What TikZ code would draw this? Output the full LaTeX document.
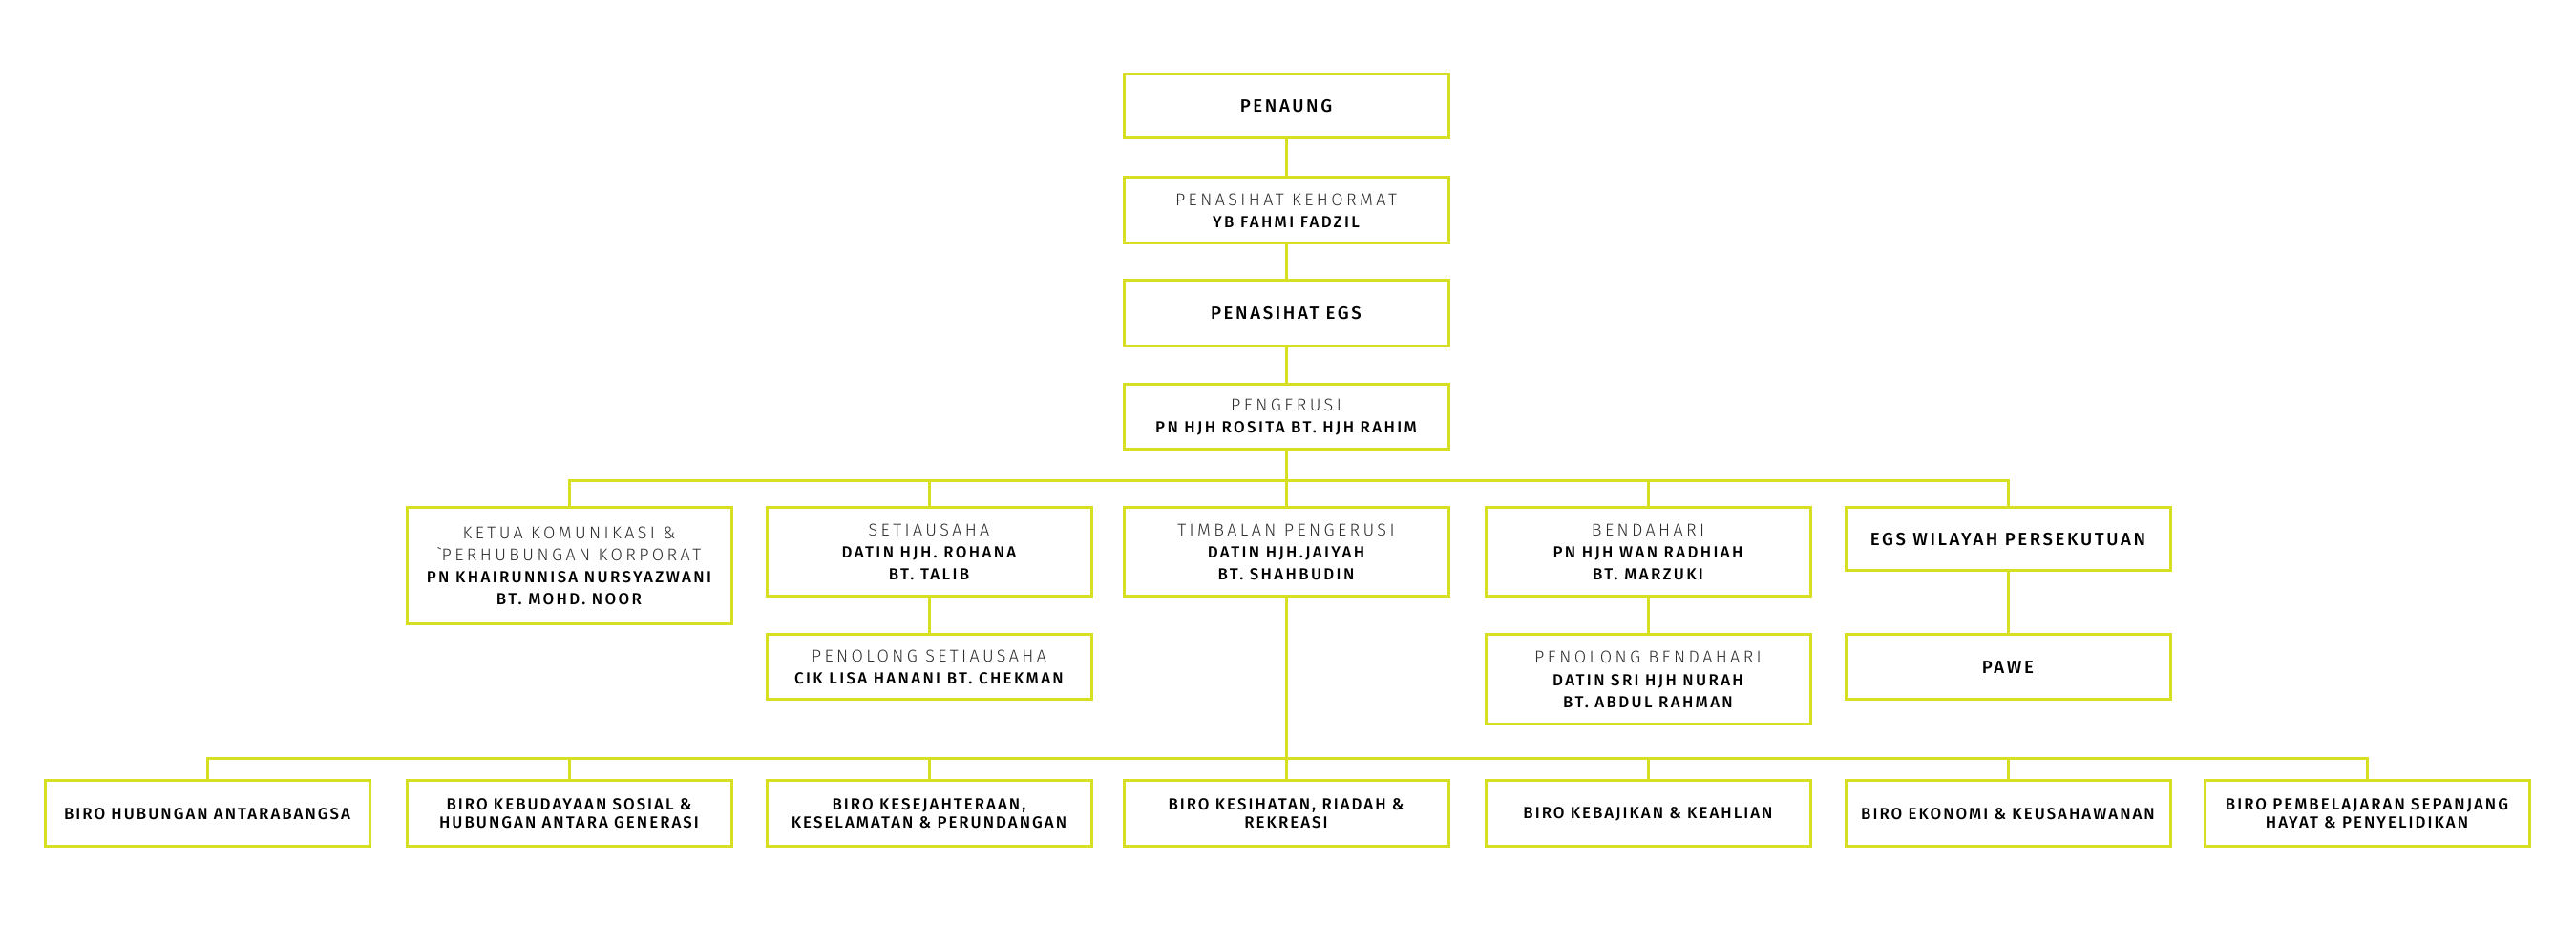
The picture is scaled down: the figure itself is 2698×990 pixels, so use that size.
\documentclass[tikz,border=0pt]{standalone}
\usepackage{fontspec}
\setmainfont{Fira Sans}
\newfontfamily\ttlfont{Fira Sans Light}[LetterSpace=19]
\newfontfamily\namfont{Fira Sans Medium}[LetterSpace=14]
\newfontfamily\birofont{Fira Sans Medium}[LetterSpace=12]
\usetikzlibrary{positioning}
\definecolor{egsline}{RGB}{215,223,35}
\definecolor{egstitle}{RGB}{45,45,45}
\newcommand\jaw[1]{{\ttlfont\fontsize{5.1}{6.6}\selectfont\color{egstitle}#1}}
\newcommand\nama[1]{{\namfont\fontsize{4.8}{6.6}\selectfont #1}}
\tikzset{
  orgbox/.style ={draw=egsline, line width=0.3mm, fill=white, anchor=north, minimum width=34mm,
                  inner sep=0pt, outer sep=0pt, align=center, font=\fontsize{5}{6.6}\selectfont},
  headbox/.style={orgbox, font=\namfont\fontsize{5.3}{6.6}\selectfont},
  birobox/.style={orgbox, minimum height=6.9mm, font=\birofont\fontsize{4.8}{5.4}\selectfont},
  link/.style   ={draw=egsline, line width=0.3mm}
}

\begin{document}
\begin{tikzpicture}[x=0.1mm,y=-0.1mm]
\useasboundingbox (0,0) rectangle (2698,990);
% top column
\node[headbox, minimum height=6.7mm] (penaung) at (1347,78) {PENAUNG};
\node[orgbox, minimum height=6.9mm] (keh) at (1347,186)
  {\jaw{PENASIHAT KEHORMAT}\\\nama{YB FAHMI FADZIL}};
\node[headbox, minimum height=6.9mm] (egs) at (1347,294) {PENASIHAT EGS};
\node[orgbox, minimum height=6.8mm] (peng) at (1347,403)
  {\jaw{PENGERUSI}\\\nama{PN HJH ROSITA BT. HJH RAHIM}};

% second row
\node[orgbox, minimum height=12.2mm] (ketua) at (596,532)
  {\jaw{KETUA KOMUNIKASI \&}\\\jaw{\textasciigrave PERHUBUNGAN KORPORAT}\\
   \nama{PN KHAIRUNNISA NURSYAZWANI}\\\nama{BT. MOHD. NOOR}};
\node[orgbox, minimum height=9.3mm] (setia) at (973,532)
  {\jaw{SETIAUSAHA}\\\nama{DATIN HJH. ROHANA}\\\nama{BT. TALIB}};
\node[orgbox, minimum height=9.3mm] (timb) at (1347,532)
  {\jaw{TIMBALAN PENGERUSI}\\\nama{DATIN HJH.JAIYAH}\\\nama{BT. SHAHBUDIN}};
\node[orgbox, minimum height=9.3mm] (bend) at (1726,532)
  {\jaw{BENDAHARI}\\\nama{PN HJH WAN RADHIAH}\\\nama{BT. MARZUKI}};
\node[headbox, minimum height=6.6mm] (egswp) at (2103,532) {EGS WILAYAH PERSEKUTUAN};

% assistants
\node[orgbox, minimum height=6.8mm, below=4mm of setia] (psetia)
  {\jaw{PENOLONG SETIAUSAHA}\\\nama{CIK LISA HANANI BT. CHEKMAN}};
\node[orgbox, minimum height=9.4mm, below=4mm of bend] (pbend)
  {\jaw{PENOLONG BENDAHARI}\\\nama{DATIN SRI HJH NURAH}\\\nama{BT. ABDUL RAHMAN}};
\node[headbox, minimum height=6.8mm, below=6.7mm of egswp] (pawe) {PAWE};

% biro row
\foreach \n/\x/\t in {b1/217/{BIRO HUBUNGAN ANTARABANGSA},
    b2/596/{BIRO KEBUDAYAAN SOSIAL \&\\HUBUNGAN ANTARA GENERASI},
    b3/973/{BIRO KESEJAHTERAAN,\\KESELAMATAN \& PERUNDANGAN},
    b4/1347/{BIRO KESIHATAN, RIADAH \&\\REKREASI},
    b5/1726/{BIRO KEBAJIKAN \& KEAHLIAN},
    b6/2103/{BIRO EKONOMI \& KEUSAHAWANAN},
    b7/2479/{BIRO PEMBELAJARAN SEPANJANG\\HAYAT \& PENYELIDIKAN}}
  \node[birobox] (\n) at (\x,818) {\t};

% connectors
\coordinate (busA) at (0,504);
\coordinate (busB) at (0,795);
\draw[link] (penaung) -- (keh);
\draw[link] (keh) -- (egs);
\draw[link] (egs) -- (peng);
\draw[link] (peng.south) -- (peng.south |- busA);
\draw[link] (ketua.north) |- (peng.south |- busA) -| (egswp.north);
\foreach \n in {setia,timb,bend}
  \draw[link] (\n.north) -- (\n.north |- busA);
\draw[link] (setia) -- (psetia);
\draw[link] (bend) -- (pbend);
\draw[link] (egswp) -- (pawe);
\draw[link] (timb.south) -- (timb.south |- busB);
\draw[link] (b1.north) |- (timb.south |- busB) -| (b7.north);
\foreach \n in {b2,b3,b4,b5,b6}
  \draw[link] (\n.north) -- (\n.north |- busB);
\end{tikzpicture}
\end{document}
